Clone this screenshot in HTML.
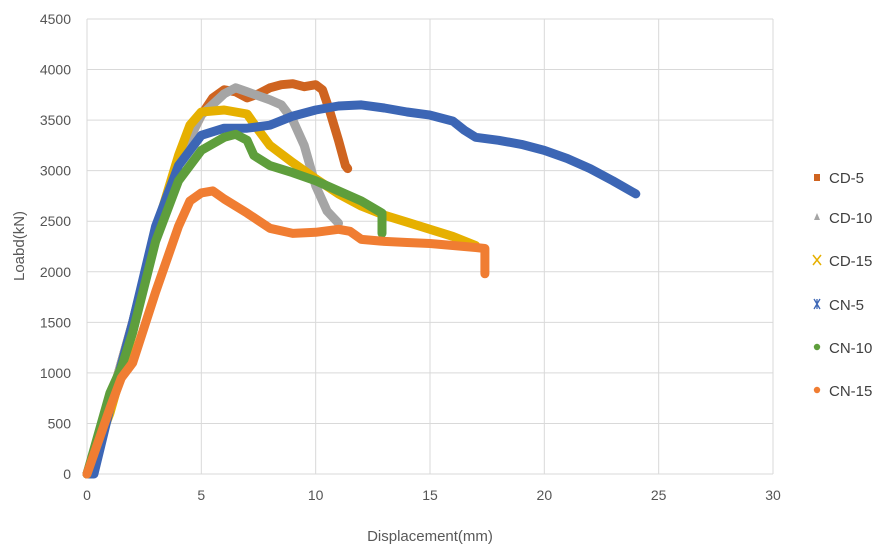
<!DOCTYPE html>
<html><head><meta charset="utf-8"><style>
html,body{margin:0;padding:0;background:#fff;}
svg{display:block;font-family:"Liberation Sans",sans-serif;}
</style></head><body>
<svg id="chart" width="887" height="553" viewBox="0 0 887 553" xmlns="http://www.w3.org/2000/svg">
<g id="grid"></g>
<g id="series"></g>
<g id="axes"></g>
<g id="legend"></g>
<text x="430" y="541" text-anchor="middle" font-size="15" fill="#595959">Displacement(mm)</text>
<text transform="translate(24,246) rotate(-90)" text-anchor="middle" font-size="15" fill="#595959">Loabd(kN)</text>
</svg>
<script>
const xTicks=[0,5,10,15,20,25,30];
const yTicks=[0,500,1000,1500,2000,2500,3000,3500,4000,4500];
const seriesNames=["CD-5","CD-10","CD-15","CN-5","CN-10","CN-15"];
const cd5X=[0,1,2,3,4,5,5.5,6,6.5,7,7.5,8,8.5,9,9.5,10,10.3,10.6,11,11.3,11.4];
const cd5Y=[0,700,1500,2400,3100,3550,3720,3800,3780,3720,3760,3820,3850,3860,3830,3850,3800,3600,3300,3050,3020];
const cd10X=[0,1,2,3,4,5,6,6.5,7,8,8.5,9,9.5,10,10.5,11];
const cd10Y=[0,700,1500,2400,3100,3550,3760,3820,3780,3700,3650,3500,3250,2850,2600,2480];
const cd15X=[0,1,2,3,4,4.5,5,6,7,7.5,8,9,10,11,12,13,14,15,16,17];
const cd15Y=[0,600,1400,2400,3150,3450,3580,3600,3560,3400,3250,3080,2920,2770,2650,2560,2490,2420,2350,2260];
const cn5X=[0,0.3,1,2,3,4,5,6,7,8,9,10,11,12,13,14,15,16,16.5,17,18,19,20,21,22,23,24];
const cn5Y=[0,0,650,1500,2450,3050,3350,3420,3420,3450,3540,3600,3640,3650,3620,3580,3550,3490,3400,3330,3300,3260,3200,3120,3020,2900,2770];
const cn10X=[0,1,1.5,2,3,4,5,6,6.5,7,7.3,8,9,10,11,12,12.9,12.9];
const cn10Y=[0,800,1050,1400,2300,2900,3200,3330,3360,3300,3150,3050,2980,2900,2800,2700,2580,2380];
const cn15X=[0,1,1.5,2,3,4,4.5,5,5.5,6,7,8,9,10,11,11.5,12,13,14,15,16,17,17.4,17.4,17.4];
const cn15Y=[0,650,950,1100,1800,2450,2700,2780,2800,2720,2580,2430,2380,2390,2420,2400,2320,2300,2290,2280,2260,2240,2230,2150,1980];
const NS="http://www.w3.org/2000/svg";
const X0=87,X1=773,Y0=474,Y1=19;
function sx(v){return X0+(v-0)/(30-0)*(X1-X0);}
function sy(v){return Y0-(v-0)/(4500-0)*(Y0-Y1);}
function mk(tag,attrs,parent){const e=document.createElementNS(NS,tag);for(const k in attrs)e.setAttribute(k,attrs[k]);parent.appendChild(e);return e;}
const grid=document.getElementById('grid'),axes=document.getElementById('axes'),ser=document.getElementById('series'),leg=document.getElementById('legend');
xTicks.forEach(t=>{
  const l=mk('line',{x1:sx(t),x2:sx(t),y1:Y1,y2:Y0,stroke:'#d9d9d9','stroke-width':1},grid);
  
  
  const tx=mk('text',{x:sx(t),y:Y0+26,'text-anchor':'middle','font-size':14,fill:'#555'},axes);
  tx.textContent=t;
  
  
});
yTicks.forEach(t=>{
  const l=mk('line',{x1:X0,x2:X1,y1:sy(t),y2:sy(t),stroke:'#d9d9d9','stroke-width':1},grid);
  
  
  const tx=mk('text',{x:X0-16,y:sy(t)+5,'text-anchor':'end','font-size':14,fill:'#555'},axes);
  tx.textContent=t;
  
  
});
const data=[[cd5X,cd5Y,'#cf6420'],[cd10X,cd10Y,'#a5a5a5'],[cd15X,cd15Y,'#e6b000'],[cn5X,cn5Y,'#3c66b5'],[cn10X,cn10Y,'#5e9e3c'],[cn15X,cn15Y,'#f07d32']];
data.forEach((d,i)=>{
  const pts=d[0].map((x,j)=>sx(x).toFixed(1)+','+sy(d[1][j]).toFixed(1)).join(' ');
  const p=mk('polyline',{points:pts,fill:'none',stroke:d[2],'stroke-width':9,'stroke-linejoin':'round','stroke-linecap':'round'},ser);
  
  
});
const legY=[183,223,266,310,353,396];
data.forEach((d,i)=>{
  const g=mk('g',{},leg);
  
  
  const y=legY[i];
  if(i==0)mk('rect',{x:814,y:y-9,width:6,height:7,fill:d[2]},g);
  else if(i==1)mk('polygon',{points:`817,${y-10} 820,${y-3} 814,${y-3}`,fill:d[2]},g);
  else if(i==2){mk('path',{d:`M813,${y-11}L821,${y-1}M821,${y-11}L813,${y-1}`,stroke:d[2],'stroke-width':1.5},g);}
  else if(i==3){mk('path',{d:`M814,${y-11}L820,${y-1}M820,${y-11}L814,${y-1}M817,${y-11}V${y-1}`,stroke:d[2],'stroke-width':1.3},g);}
  else mk('circle',{cx:817,cy:y-6,r:3.2,fill:d[2]},g);
  const t=mk('text',{x:829,y:y,'font-size':15,fill:'#404040'},g);
  t.textContent=seriesNames[i];
});
</script>
</body></html>
